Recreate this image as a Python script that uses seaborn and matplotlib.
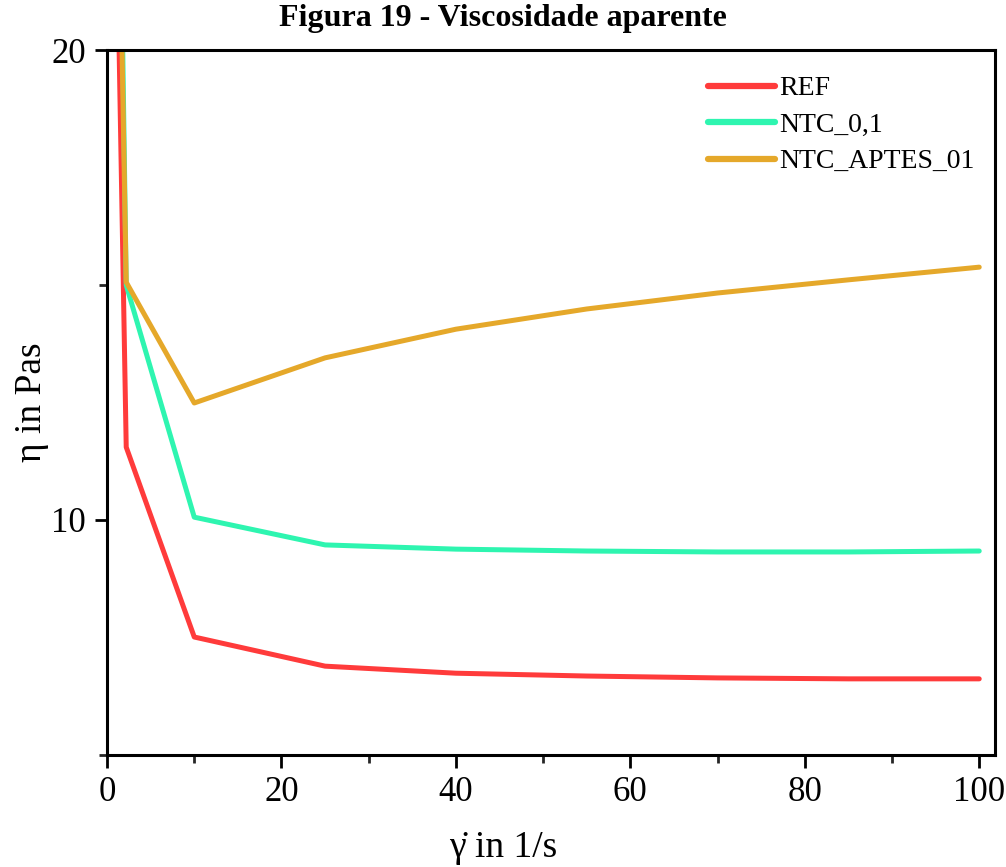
import numpy as np
import pandas as pd
import matplotlib
matplotlib.use("Agg")
import matplotlib.pyplot as plt
from matplotlib.ticker import MultipleLocator
import seaborn as sns

shear_rate = [1.0, 2.2, 10, 25, 40, 55, 70, 85, 100]
ref = [24.0, 11.55, 7.51, 6.89, 6.74, 6.68, 6.64, 6.62, 6.62]
ntc_01 = [30.0, 15.0, 10.06, 9.47, 9.38, 9.34, 9.32, 9.32, 9.34]
ntc_aptes_01 = [27.4, 15.06, 12.49, 13.45, 14.06, 14.49, 14.83, 15.11, 15.38]
series_names = ["REF", "NTC_0,1", "NTC_APTES_01"]
colors = ["#FF3B3B", "#2EF5B0", "#E5A82A"]

df = pd.concat([
    pd.DataFrame({"x": shear_rate, "y": vals, "s": name})
    for name, vals in zip(series_names, [ref, ntc_01, ntc_aptes_01])
])

sns.set_style("ticks")
plt.rcParams["font.family"] = ["Liberation Serif", "DejaVu Serif"]
plt.rcParams["text.color"] = "black"
plt.rcParams["axes.labelcolor"] = "black"

fig = plt.figure(figsize=(10.06, 8.67), dpi=100)
ax = fig.add_axes([0.1064, 0.1292, 0.8826, 0.8131])

sns.lineplot(data=df, x="x", y="y", hue="s", palette=colors, ax=ax,
             linewidth=3.6, sort=False, legend=True)

ax.set_xlim(0, 101.8)
ax.set_ylim(5, 20)
ax.xaxis.set_major_locator(MultipleLocator(20))
ax.xaxis.set_minor_locator(MultipleLocator(10))
ax.yaxis.set_major_locator(MultipleLocator(10))
ax.yaxis.set_minor_locator(MultipleLocator(5))
ax.tick_params(which="major", direction="out", length=9, width=2, labelsize=25,
               colors="black", top=False, right=False, pad=6)
ax.tick_params(which="minor", direction="out", length=6, width=2,
               top=False, right=False)
for sp in ax.spines.values():
    sp.set_linewidth(2.2)
    sp.set_color("black")
    sp.set_visible(True)

ax.set_xlabel("γ̇ in 1/s", fontsize=27, va="center")
ax.set_ylabel("η in Pas", fontsize=27, va="center")
ax.xaxis.set_label_coords(0.5, 1 - 848 / 867, transform=fig.transFigure)
ax.yaxis.set_label_coords(32 / 1006, 1 - 402 / 867, transform=fig.transFigure)

leg = ax.legend(loc="upper right", frameon=False, fontsize=20,
                handlelength=2.4, handletextpad=0.15, labelspacing=0.4,
                bbox_to_anchor=(1.0, 0.993), borderaxespad=0.35)
for line in leg.get_lines():
    line.set_linewidth(4.5)

fig.text(0.5, 0.979, "Figura 19 - Viscosidade aparente", ha="center", va="center",
         fontsize=23, fontweight="bold", color="black")

fig.savefig("out.png", dpi=100)
